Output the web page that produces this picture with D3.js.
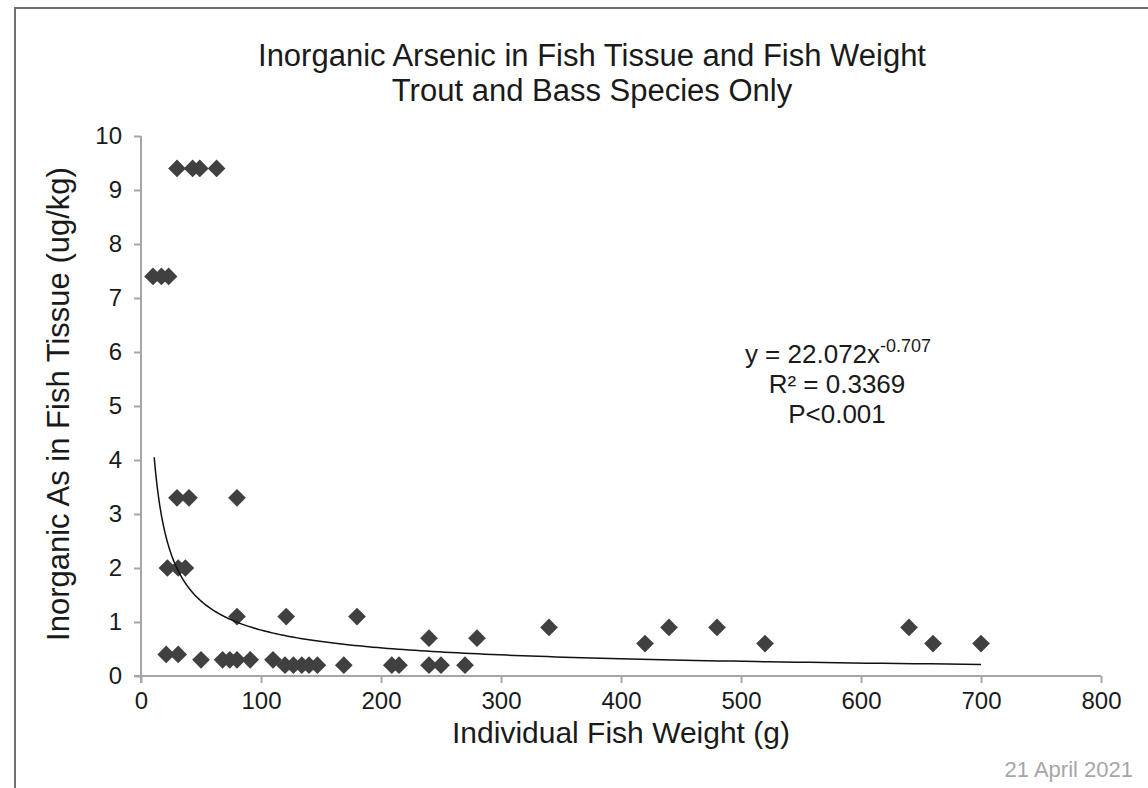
<!DOCTYPE html>
<html>
<head>
<meta charset="utf-8">
<script src="https://cdn.jsdelivr.net/npm/d3@7"></script>
<style>
  html, body { margin: 0; padding: 0; background: #fff; }
  svg { display: block; font-family: "Liberation Sans", Arial, sans-serif; }
</style>
</head>
<body>
<svg id="chart" width="1148" height="788"></svg>
<script>
// Individual fish weight (g) and inorganic arsenic (ug/kg), trout and bass samples
const fishWeight = [
  10, 17, 23,
  30, 43, 49, 63,
  30, 40, 80,
  22, 31, 37,
  80, 121, 180,
  21, 31,
  50, 68, 74, 80, 91, 110,
  120, 127, 134, 140, 147, 169, 209, 215, 240, 250, 270,
  240, 280,
  340, 440, 480, 640,
  420, 520, 660, 700
];
const arsenic = [
  7.4, 7.4, 7.4,
  9.4, 9.4, 9.4, 9.4,
  3.3, 3.3, 3.3,
  2.0, 2.0, 2.0,
  1.1, 1.1, 1.1,
  0.4, 0.4,
  0.3, 0.3, 0.3, 0.3, 0.3, 0.3,
  0.2, 0.2, 0.2, 0.2, 0.2, 0.2, 0.2, 0.2, 0.2, 0.2, 0.2,
  0.7, 0.7,
  0.9, 0.9, 0.9, 0.9,
  0.6, 0.6, 0.6, 0.6
];

// Power trendline y = a * x^b and the weight range it spans
const trendCoef = 22.072;
const trendExp = -0.707;
const trendRange = [11, 700];

const xTicks = [0, 100, 200, 300, 400, 500, 600, 700, 800];
const yTicks = [0, 1, 2, 3, 4, 5, 6, 7, 8, 9, 10];

const titleLines = ["Inorganic Arsenic in Fish Tissue and Fish Weight", "Trout and Bass Species Only"];
const xTitle = "Individual Fish Weight (g)";
const yTitle = "Inorganic As in Fish Tissue (ug/kg)";
const statLines = ["R\u00B2 = 0.3369", "P<0.001"];
const dateText = "21 April 2021";

const svg = d3.select("#chart");
const axisColor = "#a6a6a6";
const textColor = "#1a1a1a";

const x = d3.scaleLinear().domain([0, 800]).range([141, 1101]);
const y = d3.scaleLinear().domain([0, 10]).range([676, 136]);

// Outer frame (top and left edges)
svg.append("path")
  .attr("d", "M15,788 V8 H1148")
  .attr("fill", "none")
  .attr("stroke", "#707070")
  .attr("stroke-width", 2);

// Title
svg.append("g").selectAll("text").data(titleLines).join("text")
  .attr("x", 592)
  .attr("y", (d, i) => 66 + i * 35)
  .attr("text-anchor", "middle")
  .attr("font-size", 31)
  .attr("fill", textColor)
  .text(d => d);

// Axes
const xAxis = svg.append("g")
  .attr("transform", `translate(0,${y(0)})`)
  .call(d3.axisBottom(x).tickValues(xTicks).tickSize(7).tickPadding(9).tickSizeOuter(0));
const yAxis = svg.append("g")
  .attr("transform", `translate(${x(0)},0)`)
  .call(d3.axisLeft(y).tickValues(yTicks).tickSize(7).tickPadding(12).tickSizeOuter(0));

[xAxis, yAxis].forEach(g => {
  g.select(".domain").attr("stroke", axisColor).attr("stroke-width", 2);
  g.selectAll(".tick line").attr("stroke", axisColor).attr("stroke-width", 2);
  g.selectAll(".tick text").attr("fill", textColor).attr("font-size", 24)
    .attr("font-family", "Liberation Sans, Arial, sans-serif");
});
// Extend each axis line to meet the other axis' zero tick
xAxis.select(".domain").attr("d", `M${x(0) - 7},0H${x(800)}`);
yAxis.select(".domain").attr("d", `M0,${y(0) + 7}V${y(10)}`);

// Axis titles
svg.append("text")
  .attr("x", 621)
  .attr("y", 743)
  .attr("text-anchor", "middle")
  .attr("font-size", 30)
  .attr("fill", textColor)
  .text(xTitle);

svg.append("text")
  .attr("transform", `translate(69,404) rotate(-90)`)
  .attr("text-anchor", "middle")
  .attr("font-size", 31)
  .attr("fill", textColor)
  .text(yTitle);

// Data points as diamonds
const diamond = d3.symbol().type(d3.symbolDiamond2).size(200);
svg.append("g").selectAll("path").data(fishWeight.map((w, i) => [w, arsenic[i]])).join("path")
  .attr("transform", d => `translate(${x(d[0])},${y(d[1])})`)
  .attr("d", diamond)
  .attr("fill", "#404040");

// Power trendline
const trendPts = d3.range(0, 201).map(i => {
  const w = trendRange[0] * Math.pow(trendRange[1] / trendRange[0], i / 200);
  return [w, trendCoef * Math.pow(w, trendExp)];
});
svg.append("path")
  .datum(trendPts)
  .attr("d", d3.line().x(d => x(d[0])).y(d => y(d[1])))
  .attr("fill", "none")
  .attr("stroke", "#111")
  .attr("stroke-width", 1.5);

// Trendline equation and statistics
const eq = svg.append("text")
  .attr("x", 838)
  .attr("y", 363)
  .attr("text-anchor", "middle")
  .attr("font-size", 26)
  .attr("fill", textColor);
eq.append("tspan").text("y = " + trendCoef.toFixed(3) + "x");
eq.append("tspan").attr("dy", -11).attr("font-size", 18).text(trendExp.toFixed(3));

svg.append("g").selectAll("text").data(statLines).join("text")
  .attr("x", 837)
  .attr("y", (d, i) => 393 + i * 30)
  .attr("text-anchor", "middle")
  .attr("font-size", 26)
  .attr("fill", textColor)
  .text(d => d);

// Date stamp
svg.append("text")
  .attr("x", 1133)
  .attr("y", 777)
  .attr("text-anchor", "end")
  .attr("font-size", 22)
  .attr("fill", "#a6a6a6")
  .text(dateText);
</script>
</body>
</html>
